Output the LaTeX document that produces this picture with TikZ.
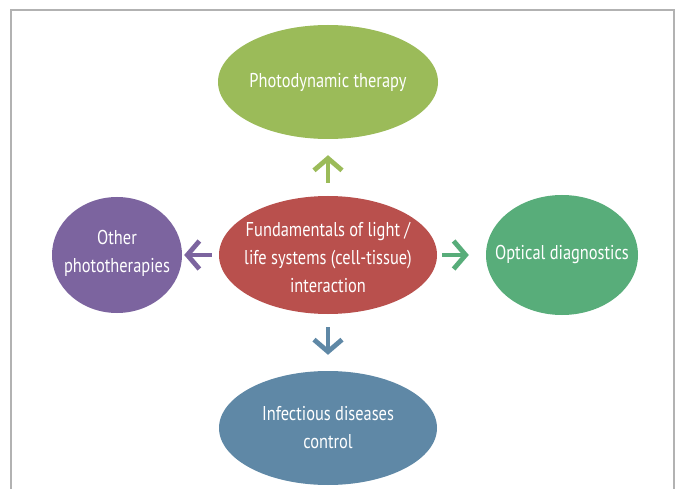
\documentclass[tikz,border=0pt]{standalone}
\usepackage{fontspec}
\setmainfont[FakeStretch=0.82]{PT Sans}
\usetikzlibrary{arrows.meta,shapes.geometric}
\definecolor{cgreen}{RGB}{155,187,89}
\definecolor{cred}{RGB}{185,80,77}
\definecolor{cteal}{RGB}{88,173,122}
\definecolor{cpurple}{RGB}{124,100,159}
\definecolor{cblue}{RGB}{95,136,166}
\definecolor{frame}{RGB}{178,178,178}
\tikzset{
  blob/.style={ellipse, inner sep=0pt},
  txt/.style={text=white, align=center, inner sep=0pt,
    font=\fontsize{20}{28}\selectfont},
  conn/.style={line width=4.8pt, -{Straight Barb[length=12pt,width=28pt,line width=4.8pt]}},
}
\begin{document}
\begin{tikzpicture}[x=1pt,y=-1pt]
\useasboundingbox (0,0) rectangle (675,489);
\fill[white] (0,0) rectangle (675,489);
\draw[frame, line width=1.6pt] (11,489) -- (11,10) -- (674,10) -- (674,489);
\node[blob, fill=cgreen, minimum width=220pt, minimum height=114pt,
  label={[txt]center:Photodynamic therapy}] (pdt) at (328,82) {};
\node[blob, fill=cred, minimum width=218pt, minimum height=118pt,
  label={[txt, yshift=-3pt]center:{Fundamentals of light /\\life systems (cell-tissue)\\interaction}}] (cen) at (328,255) {};
\node[blob, fill=cteal, minimum width=152pt, minimum height=120pt,
  label={[txt]center:Optical diagnostics}] (opt) at (562,255) {};
\node[blob, fill=cpurple, minimum width=130pt, minimum height=116pt,
  label={[txt, yshift=2pt]center:{Other\\phototherapies}}] (oth) at (117,255) {};
\node[blob, fill=cblue, minimum width=218pt, minimum height=114pt,
  label={[txt]center:{Infectious diseases\\control}}] (inf) at (328,428) {};
\draw[conn, cgreen, shorten <=13pt, shorten >=16pt] (cen.north) -- (pdt.south);
\draw[conn, cblue, shorten <=13pt, shorten >=16pt] (cen.south) -- (inf.north);
\draw[conn, cteal, shorten <=5pt, shorten >=17pt] (cen.east) -- (opt.west);
\draw[conn, cpurple, shorten <=7pt, shorten >=2pt] (cen.west) -- (oth.east);
\end{tikzpicture}
\end{document}
